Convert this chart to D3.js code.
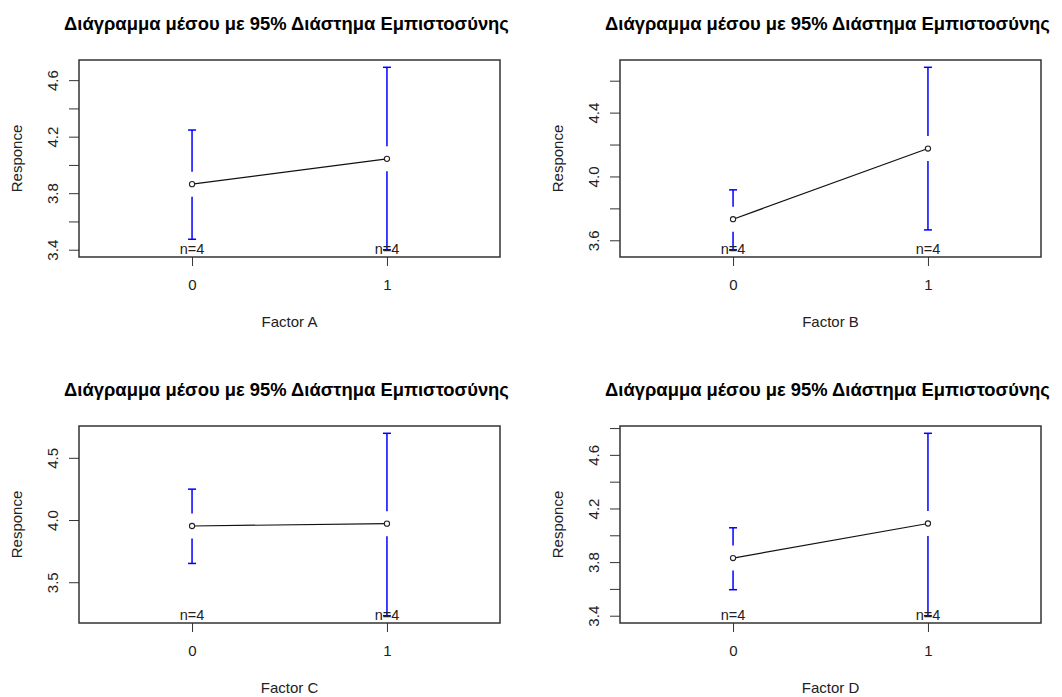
<!DOCTYPE html>
<html>
<head>
<meta charset="utf-8">
<script src="https://cdn.jsdelivr.net/npm/d3@7"></script>
<style>
body { margin: 0; background: #fff; }
svg text { font-family: "Liberation Sans", Arial, sans-serif; }
</style>
</head>
<body>
<svg id="chart" width="1062" height="697"></svg>
<script>
const title = "Διάγραμμα μέσου με 95% Διάστημα Εμπιστοσύνης"
const yLabel = "Responce"
const factors = ["Factor A", "Factor B", "Factor C", "Factor D"]
const levels = ["0", "1"]
const counts = [[4, 4], [4, 4], [4, 4], [4, 4]]
const means = [[3.864, 4.043], [3.732, 4.175], [3.952, 3.971], [3.830, 4.088]]
const ciLow = [[3.474, 3.400], [3.541, 3.665], [3.651, 3.231], [3.594, 3.400]]
const ciHigh = [[4.247, 4.691], [3.916, 4.684], [4.248, 4.697], [4.056, 4.761]]
const yTicks = [
    [3.4, 3.6, 3.8, 4.0, 4.2, 4.4, 4.6],
    [3.6, 3.8, 4.0, 4.2, 4.4, 4.6],
    [3.5, 4.0, 4.5],
    [3.4, 3.6, 3.8, 4.0, 4.2, 4.4, 4.6, 4.8],
]

const svg = d3.select("#chart")
svg.append("rect").attr("width", 1062).attr("height", 697).attr("fill", "#fff")

// plot boxes, one per panel (2 x 2)
const boxes = [
    { x: 79, y: 60 },
    { x: 620, y: 60 },
    { x: 79, y: 426 },
    { x: 620, y: 426 },
]
const boxW = 421
const boxH = 197
const gap = 12.5
const textColour = "#222"
const axisFont = "15px"

function drawPanel(p) {
    const b = boxes[p]
    const g = svg.append("g").attr("transform", "translate(" + b.x + "," + b.y + ")")

    // R style 4% axis extension
    const xl = [-0.5, levels.length - 0.5]
    const xPad = (xl[1] - xl[0]) * 0.04
    const x = d3.scaleLinear().domain([xl[0] - xPad, xl[1] + xPad]).range([0, boxW])

    const ext = d3.extent(ciLow[p].concat(ciHigh[p]))
    const yPad = (ext[1] - ext[0]) * 0.04
    const y = d3.scaleLinear().domain([ext[0] - yPad, ext[1] + yPad]).range([boxH, 0])

    const ticks = yTicks[p]
    const spacing = Math.abs(y(ticks[0]) - y(ticks[1]))
    const step = spacing < 40 ? 2 : 1

    const yAxis = g.append("g")
        .attr("color", "#333")
        .call(d3.axisLeft(y)
            .tickValues(ticks)
            .tickSize(10)
            .tickFormat((d, i) => (i % step === 0 ? d.toFixed(1) : "")))
    yAxis.select(".domain").remove()
    yAxis.selectAll("text")
        .attr("fill", textColour)
        .attr("font-size", axisFont)
        .attr("font-family", null)
        .attr("text-anchor", "middle")
        .attr("transform", "rotate(-90)")
        .attr("x", 0)
        .attr("y", -21)
        .attr("dy", 0)

    const xAxis = g.append("g")
        .attr("transform", "translate(0," + boxH + ")")
        .attr("color", "#333")
        .call(d3.axisBottom(x)
            .tickValues(levels.map((d, i) => i))
            .tickSize(9)
            .tickFormat((d) => levels[d]))
    xAxis.select(".domain").remove()
    xAxis.selectAll("text")
        .attr("fill", textColour)
        .attr("font-size", axisFont)
        .attr("font-family", null)
        .attr("y", 33)
        .attr("dy", 0)

    g.append("rect")
        .attr("width", boxW)
        .attr("height", boxH)
        .attr("fill", "none")
        .attr("stroke", "#333")
        .attr("stroke-width", 1.5)

    const rows = levels.map((lv, i) => ({
        i: i,
        mean: means[p][i],
        lo: ciLow[p][i],
        hi: ciHigh[p][i],
        n: counts[p][i],
    }))

    // confidence interval bars, broken around the mean
    const bars = g.append("g").attr("stroke", "#0000ff").attr("stroke-width", 1.5)
    rows.forEach((d) => {
        const cx = x(d.i)
        const ym = y(d.mean)
        if (y(d.hi) < ym - gap) {
            bars.append("line").attr("x1", cx).attr("x2", cx).attr("y1", ym - gap).attr("y2", y(d.hi))
        }
        if (y(d.lo) > ym + gap) {
            bars.append("line").attr("x1", cx).attr("x2", cx).attr("y1", ym + gap).attr("y2", y(d.lo))
        }
        bars.append("line").attr("x1", cx - 4).attr("x2", cx + 4).attr("y1", y(d.hi)).attr("y2", y(d.hi))
        bars.append("line").attr("x1", cx - 4).attr("x2", cx + 4).attr("y1", y(d.lo)).attr("y2", y(d.lo))
    })

    g.append("path")
        .datum(rows)
        .attr("fill", "none")
        .attr("stroke", "#111")
        .attr("stroke-width", 1.2)
        .attr("d", d3.line().x((d) => x(d.i)).y((d) => y(d.mean)))

    g.selectAll("circle")
        .data(rows)
        .enter()
        .append("circle")
        .attr("cx", (d) => x(d.i))
        .attr("cy", (d) => y(d.mean))
        .attr("r", 2.6)
        .attr("fill", "#fff")
        .attr("stroke", "#222")
        .attr("stroke-width", 1.1)

    g.selectAll(".nlab")
        .data(rows)
        .enter()
        .append("text")
        .attr("class", "nlab")
        .attr("x", (d) => x(d.i))
        .attr("y", boxH - 3)
        .attr("text-anchor", "middle")
        .attr("font-size", "14.5px")
        .attr("fill", textColour)
        .text((d) => "n=" + d.n)

    g.append("text")
        .attr("x", boxW / 2 - 3)
        .attr("y", -30)
        .attr("text-anchor", "middle")
        .attr("font-size", "18.4px")
        .attr("font-weight", "bold")
        .attr("fill", "#000")
        .text(title)

    g.append("text")
        .attr("x", boxW / 2)
        .attr("y", boxH + 70)
        .attr("text-anchor", "middle")
        .attr("font-size", axisFont)
        .attr("fill", textColour)
        .text(factors[p])

    g.append("text")
        .attr("transform", "translate(-57," + boxH / 2 + ") rotate(-90)")
        .attr("text-anchor", "middle")
        .attr("font-size", axisFont)
        .attr("fill", textColour)
        .text(yLabel)
}

factors.forEach((f, p) => drawPanel(p))
</script>
</body>
</html>
